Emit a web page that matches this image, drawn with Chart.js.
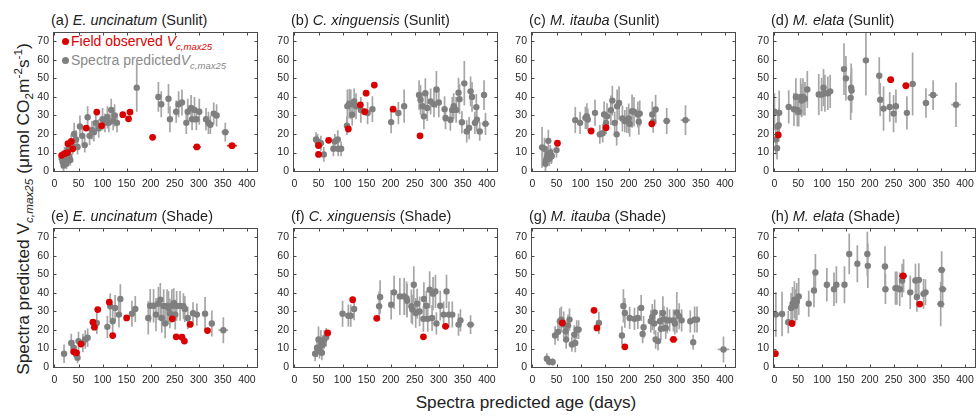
<!DOCTYPE html>
<html><head><meta charset="utf-8">
<script src="https://cdn.jsdelivr.net/npm/chart.js@4.4.1/dist/chart.umd.min.js"></script>
<style>
html,body{margin:0;padding:0;background:#fff;}
#wrap{position:relative;width:980px;height:417px;overflow:hidden;font-family:"Liberation Sans",Arial,Helvetica,sans-serif;color:#222;}
canvas{position:absolute;left:0;top:0;}
.ttl{position:absolute;font-size:14.5px;line-height:16px;white-space:nowrap;color:#222;}
.lg{position:absolute;font-size:14px;line-height:16px;white-space:nowrap;}
.dot{position:absolute;width:7px;height:7px;border-radius:50%;}
sub,sup{font-size:68%;line-height:0;}
#ytitle{position:absolute;font-size:17.3px;white-space:nowrap;transform:translate(-50%,-50%) rotate(-90deg);left:23px;top:209px;}
#xtitle{position:absolute;font-size:17.2px;white-space:nowrap;transform:translateX(-50%);left:526px;top:392px;}
</style></head>
<body><div id="wrap">
<div id="ytitle">Spectra predicted V<sub><i>c,max25</i></sub> (μmol CO<sub>2</sub>m<sup>-2</sup>s<sup>-1</sup>)</div>
<div id="xtitle">Spectra predicted age (days)</div>
<div class="dot" style="left:62px;top:38px;background:#d90000"></div>
<div class="lg" style="left:71px;top:33px;color:#d90000">Field observed <i>V</i><sub><i>c,max25</i></sub></div>
<div class="dot" style="left:62px;top:57px;background:#7f7f7f"></div>
<div class="lg" style="left:71px;top:52px;color:#8a8a8a">Spectra predicted<i>V</i><sub><i>c,max25</i></sub></div>
</div>
<script>
const xTicks=[0,50,100,150,200,250,300,350,400];
const yTicks=[0,10,20,30,40,50,60,70];

// predicted: [age, Vcmax, yErr, xErr]; observed: [age, Vcmax, xErr]
const aPred=[[15,7,4,2],[17,5,4,2],[19,3,3,2],[21,9,4,2],[23,6,4,2],[25,4,3,2],[27,10,4,2],[29,12,4,2],[31,8,4,2],[33,6,3,2],[35,15,5,2],[38,13,4,2],[41,20,6,3],[45,17,5,3],[48,13,4,3],[53,24,6,3],[58,19,5,3],[63,14,4,3],[69,29,6,3],[73,19,5,3],[78,22,5,3],[82,21,5,3],[86,26,6,3],[92,23,5,3],[100,28,6,3],[105,26,5,3],[110,29,6,3],[113,26,5,3],[118,33,6,3],[122,27,5,3],[125,30,6,3],[130,26,5,3],[171,45,13,3],[216,40,8,4],[222,36,7,4],[237,39,8,4],[240,28,7,4],[253,32,6,4],[258,36,7,4],[265,37,7,4],[274,26,6,4],[277,32,7,4],[284,34,7,4],[286,28,6,4],[291,33,7,4],[295,28,6,4],[301,32,7,4],[315,28,6,4],[320,26,6,4],[324,25,5,4],[331,31,6,4],[337,30,6,4],[355,21,5,8]];
const aObs=[[15,8.5,2],[22,9.5,2],[27,10,2],[28,14.8,2],[35,16,2],[38,12,2],[66,23.2,2],[88,31.8,2],[98,24.5,2],[142,30.4,3],[154,28.2,2],[157,31.8,2],[204,18.2,3],[296,13,8],[369,13.7,10]];

const bPred=[[45,17,4,3],[48,16,4,3],[55,15,4,3],[61,9,4,3],[81,12,4,3],[84,16,4,3],[90,17,5,3],[91,12,4,3],[97,12,4,3],[109,24.5,5,3],[110,35,9,3],[114,36.3,8,3],[117,36,8,3],[120,30.4,6,3],[124,37.5,7,3],[128,35,7,3],[138,33,7,3],[152,31.3,6,3],[162,33.4,7,3],[201,26.4,6,4],[216,31.3,6,4],[228,35,9,4],[259,41,8,4],[262,38.4,8,4],[266,35,7,4],[269,29.5,7,4],[272,42,8,4],[276,34,7,4],[283,37.5,7,4],[290,36,7,4],[295,44,10,4],[300,37,8,4],[312,33.4,7,4],[314,28.6,6,4],[324,27.7,6,4],[328,33,7,4],[331,35,7,4],[336,33,7,4],[341,42.3,8,4],[343,38.8,8,4],[348,26.3,6,4],[353,47.3,12,4],[358,21.4,6,4],[363,23.2,6,4],[366,43,8,4],[369,40,8,4],[375,26,6,4],[378,34.5,7,4],[379,27.7,6,4],[385,21.4,5,4],[394,41,8,6],[397,25.5,6,8]];
const bObs=[[50,13.8,2],[50,9,2],[71,16.6,2],[112,22.7,2],[137,35.7,2],[146,32,2],[149,42,2],[166,46.4,2],[205,33.4,5],[261,19,3]];

const cPred=[[20,12.8,11,2],[25,12,6,2],[27,4,4,2],[28,5.7,4,2],[30,7.4,4,2],[32,9.2,4,2],[33,16.3,6,2],[35,6.6,4,2],[37,10,4,2],[39,7.8,4,2],[40,8.3,4,2],[50,11.3,4,2],[89,27.5,7,3],[99,26,6,3],[110,28.7,6,3],[113,29.6,7,3],[115,27.8,6,3],[130,31.4,7,3],[140,19.8,5,3],[146,20.4,5,3],[149,30.5,7,3],[153,26,6,3],[155,29.6,7,3],[163,32.8,8,3],[166,38,8,3],[171,26,6,3],[175,19.8,6,3],[176,35,9,3],[180,36.7,9,3],[187,28.4,7,3],[192,27,6,3],[196,27.5,7,3],[200,28.4,8,3],[202,25.5,7,3],[207,32.3,9,3],[211,32,8,3],[219,30.5,7,3],[221,26.6,7,3],[223,31,7,3],[249,30.5,7,4],[251,26.6,6,4],[256,33.2,8,4],[279,27,7,8],[318,27.5,8,10]];
const cObs=[[52,15,2],[122,21.6,3],[153,23.4,4],[248,25.5,4]];

const dPred=[[0,32,10,3],[3,17,8,3],[5.5,12.3,6,3],[7,24,8,3],[9,24.8,9,3],[10,31.4,12,3],[30,34.6,9,4],[41,33.3,9,4],[45,40,10,4],[48,33,9,4],[51,32,8,4],[55,40,10,4],[57,38,9,4],[60,40,10,4],[64,39,9,4],[69,44,10,4],[93,41.3,11,4],[99,41.3,9,4],[103,45,10,4],[106,42,10,4],[112,42,9,4],[117,43,9,4],[146,55,14,5],[150,50,12,5],[160,39.5,12,5],[161,45,13,5],[162,43.4,12,5],[192,59.7,19,6],[220,51.4,10,6],[222,38.5,9,6],[229,33.7,12,6],[242,34.6,8,6],[250,31,10,6],[255,35,9,6],[278,31.4,9,6],[290,47,17,6],[318,36.7,8,7],[333,41,8,10],[381,35.8,12,10]];
const dObs=[[8,19.5,3],[244,49.3,7],[276,46,7]];

const ePred=[[20,7.2,5,2],[35,13,5,2],[40,10.4,4,2],[45,6.8,3,2],[48,5,3,2],[50,14,5,2],[59,13,5,2],[64,14.9,5,2],[69,15.8,5,2],[88,23.8,6,3],[110,21.7,6,3],[116,32.8,7,3],[121,24.7,6,3],[126,31.9,7,3],[134,28.3,7,3],[137,36.7,8,3],[161,28.8,7,3],[168,31.3,7,3],[195,26.5,9,4],[199,33.1,9,4],[206,33.1,9,4],[211,28.3,9,4],[216,34.2,9,4],[220,36.3,9,4],[223,26.5,8,4],[227,33,9,4],[230,23.5,8,4],[234,33,9,4],[237,32,9,4],[240,29,8,4],[244,33,9,4],[248,34.5,8,4],[251,28.3,8,4],[254,33,8,4],[261,33,8,4],[268,32.8,7,4],[271,31.3,7,4],[277,26.5,6,4],[288,29,6,4],[296,28.3,6,4],[313,28.8,9,4],[327,23.5,7,4],[351,19.9,7,10]];
const eObs=[[40,8.2,2],[46,7.7,2],[55,12.4,2],[80,24.2,2],[83,21.5,2],[90,31,2],[114,35,2],[121,17,2],[150,26.5,2],[245,26,3],[253,16.3,3],[265,16.1,3],[270,14,3],[282,23,3],[318,19.7,5]];

const fPred=[[43,7.2,4,2],[47,10.4,5,2],[50,14.9,7,2],[52,8.6,4,2],[54,11.3,5,2],[55,14,6,2],[57,7.7,4,2],[59,12.2,5,2],[62,14.9,5,2],[66,16.1,5,2],[100,28.8,7,3],[112,27.7,6,3],[117,27.7,6,3],[124,31.3,6,3],[176,32.8,8,3],[178,37.8,9,3],[201,33.6,8,4],[207,40.3,9,4],[219,38.1,10,4],[228,38.1,10,4],[233,37.2,9,4],[234,35.8,9,4],[243,32.8,9,4],[245,31,8,4],[248,44.4,10,4],[252,29.2,8,4],[255,34.2,8,4],[260,30,8,4],[268,26,7,4],[269,36.7,9,4],[274,33.1,8,4],[277,26,7,4],[281,41.7,10,4],[286,26.5,7,4],[288,39.6,9,4],[293,40.8,9,4],[295,23.5,6,4],[303,33.1,8,4],[310,28.3,7,4],[316,40.8,9,4],[321,28.3,7,4],[328,28.3,7,4],[341,22.9,6,5],[345,25.2,6,5],[366,22.9,5,8]];
const fObs=[[69,18.4,2],[121,36.3,2],[171,26.3,2],[268,16.3,5],[314,22,7]];

const gPred=[[30,4.5,3,3],[35,2.9,2,3],[42,2.7,2,3],[47,17,5,3],[53,19,5,3],[57,24.7,7,3],[60,25.6,7,3],[65,23,7,3],[69,19.3,6,3],[70,14.9,5,3],[74,22.4,6,3],[77,25.6,6,3],[82,12.2,4,3],[87,17.5,5,3],[89,13,5,3],[92,20.2,5,3],[96,20.2,5,3],[138,23.8,6,3],[186,17,5,3],[189,33,9,4],[192,29.2,8,4],[202,26.5,6,4],[212,26,6,4],[219,26.5,6,4],[226,31.9,7,4],[229,17.9,5,4],[231,21.5,6,4],[246,24.7,6,4],[249,27,7,4],[253,23.5,6,4],[254,29.5,7,4],[256,14.9,5,4],[261,14,5,4],[265,24.7,6,4],[267,20.6,6,4],[271,29.2,9,4],[273,26,7,4],[277,21.1,6,4],[280,25.2,7,4],[285,25.2,6,4],[293,25.2,6,4],[296,23.5,6,4],[300,29.5,11,4],[305,27.4,7,4],[310,25.2,6,4],[328,24.7,6,5],[334,13.4,4,5],[337,25.6,7,5],[342,25.6,7,6],[397,9.5,7,12]];
const gObs=[[62,23.8,3],[128,30.6,2],[134,21.1,2],[192,10.9,2],[293,14.9,8]];

const hPred=[[3,28.3,12,4],[16,28.6,12,4],[29,24.2,6,4],[35,31.9,8,4],[38,34.2,9,4],[42,36.3,10,4],[44,33.1,9,4],[47,35.4,10,4],[51,38.1,10,4],[72,34.2,7,4],[83,41.3,9,4],[86,51,10,4],[110,44.4,9,5],[125,42,9,5],[130,44.4,10,5],[147,44.4,10,5],[157,61,11,5],[174,55.7,10,5],[195,61,12,5],[196,54.6,12,5],[232,54.2,11,6],[233,42,8,6],[254,42.6,9,6],[257,42.6,9,6],[263,42,9,6],[268,46.7,9,6],[271,49.2,9,6],[285,40.3,9,6],[296,46.7,9,6],[299,37.8,8,6],[303,47,9,6],[313,39.5,8,6],[317,40.3,7,6],[349,34,12,8],[351,52.4,10,8],[353,42,10,8]];
const hObs=[[2,7.2,2],[37,23.5,2],[270,49.2,8],[305,34,6]];

const panelLetters=['a','b','c','d','e','f','g','h'];
const species=['E. uncinatum','C. xinguensis','M. itauba','M. elata','E. uncinatum','C. xinguensis','M. itauba','M. elata'];
const conditions=['Sunlit','Sunlit','Sunlit','Sunlit','Shade','Shade','Shade','Shade'];
const predSets=[aPred,bPred,cPred,dPred,ePred,fPred,gPred,hPred];
const obsSets=[aObs,bObs,cObs,dObs,eObs,fObs,gObs,hObs];

const lefts=[53,293,531,773], tops=[32,228], W=205, H=140;
const GRAY='#7f7f7f', GRAYBAR='#a6a6a6', RED='#d90000';
const FONT='"Liberation Sans", Arial, Helvetica, sans-serif';

const decor={
  id:'decor',
  beforeDatasetsDraw(chart){
    const {ctx,chartArea:ca,scales:{x,y}}=chart;
    const pred=chart.$pred, obs=chart.$obs;
    ctx.save();
    ctx.beginPath();ctx.rect(ca.left,ca.top,ca.right-ca.left,ca.bottom-ca.top);ctx.clip();
    ctx.lineWidth=1.7;ctx.strokeStyle=GRAYBAR;
    pred.forEach(p=>{
      const px=x.getPixelForValue(p[0]),py=y.getPixelForValue(p[1]);
      ctx.beginPath();
      ctx.moveTo(px,y.getPixelForValue(p[1]-p[2]));ctx.lineTo(px,y.getPixelForValue(p[1]+p[2]));
      ctx.moveTo(x.getPixelForValue(p[0]-p[3]),py);ctx.lineTo(x.getPixelForValue(p[0]+p[3]),py);
      ctx.stroke();
    });
    ctx.strokeStyle=RED;
    obs.forEach(p=>{
      const py=y.getPixelForValue(p[1]);
      ctx.beginPath();
      ctx.moveTo(x.getPixelForValue(p[0]-p[2]),py);ctx.lineTo(x.getPixelForValue(p[0]+p[2]),py);
      ctx.stroke();
    });
    ctx.restore();
  },
  afterDraw(chart){
    const {ctx,chartArea:ca,scales:{x,y}}=chart;
    ctx.save();
    ctx.strokeStyle='#4a4a4a';ctx.lineWidth=1;
    const L=Math.round(ca.left)+0.5,R=Math.round(ca.right)-0.5,T=Math.round(ca.top)+0.5,B=Math.round(ca.bottom)-0.5;
    ctx.strokeRect(L,T,R-L,B-T);
    ctx.beginPath();
    xTicks.forEach(v=>{const px=Math.round(x.getPixelForValue(v))+0.5;ctx.moveTo(px,B);ctx.lineTo(px,B-3);ctx.moveTo(px,T);ctx.lineTo(px,T+3);});
    yTicks.forEach(v=>{const py=Math.round(y.getPixelForValue(v))+0.5;ctx.moveTo(L,py);ctx.lineTo(L+3,py);ctx.moveTo(R,py);ctx.lineTo(R-3,py);});
    ctx.stroke();
    ctx.restore();
  }
};

const wrap=document.getElementById('wrap');
for(let i=0;i<8;i++){
  const left=lefts[i%4], top=tops[Math.floor(i/4)];
  const t=document.createElement('div');
  t.className='ttl';
  t.style.left=(left-2)+'px';t.style.top=(top-20)+'px';
  t.innerHTML='('+panelLetters[i]+') <i>'+species[i]+'</i> ('+conditions[i]+')';
  wrap.appendChild(t);
  const cv=document.createElement('canvas');
  cv.width=980;cv.height=417;cv.style.width='980px';cv.style.height='417px';
  wrap.appendChild(cv);
  const yW=30,xH=25;
  new Chart(cv,{
    type:'scatter',
    data:{datasets:[
      {data:obsSets[i].map(p=>({x:p[0],y:p[1]})),backgroundColor:RED,borderWidth:0,pointRadius:3.4,order:0},
      {data:predSets[i].map(p=>({x:p[0],y:p[1]})),backgroundColor:GRAY,borderWidth:0,pointRadius:3.2,order:1}
    ]},
    options:{
      animation:false,responsive:false,events:[],devicePixelRatio:1,
      layout:{padding:{left:left-yW,top:top,right:980-(left+W),bottom:417-(top+H)-xH}},
      plugins:{legend:{display:false},tooltip:{enabled:false},title:{display:false}},
      scales:{
        x:{type:'linear',min:-3,max:423,
          afterBuildTicks:s=>{s.ticks=xTicks.map(v=>({value:v}));},
          afterFit:s=>{s.height=xH;},
          grid:{display:false,drawTicks:false},border:{display:false},
          ticks:{font:{size:10.5,family:FONT},color:'#262626',padding:6,maxRotation:0,autoSkip:false}},
        y:{type:'linear',min:-0.5,max:75,
          afterBuildTicks:s=>{s.ticks=yTicks.map(v=>({value:v}));},
          afterFit:s=>{s.width=yW;},
          grid:{display:false,drawTicks:false},border:{display:false},
          ticks:{font:{size:10.5,family:FONT},color:'#262626',padding:4,autoSkip:false}}
      }
    },
    plugins:[{id:'attach',beforeInit(c){c.$pred=predSets[i];c.$obs=obsSets[i];}},decor]
  });
}
</script>
</body></html>
